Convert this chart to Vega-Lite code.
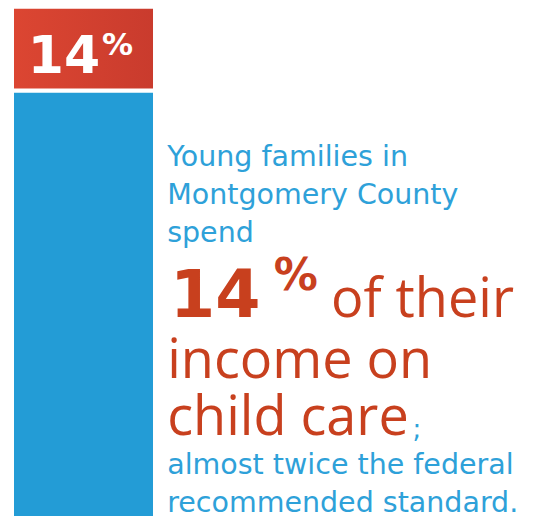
{
  "$schema": "https://vega.github.io/schema/vega-lite/v6.json",
  "width": 538,
  "height": 516,
  "padding": 0,
  "autosize": {"type": "none"},
  "background": "white",
  "config": {"view": {"stroke": null}},
  "layer": [
    {
      "data": {"values": [
        {"segment": "Rest of income", "start": 0, "end": 83.7},
        {"segment": "Child care", "start": 83.7, "end": 100}
      ]},
      "layer": [
        {
          "transform": [{"filter": "datum.segment === 'Rest of income'"}],
          "mark": {"type": "bar", "fill": "#239cd6", "stroke": "white", "strokeWidth": 4, "clip": true},
          "encoding": {
            "x": {"datum": 0, "type": "quantitative", "scale": {"domain": [-0.0839, 3.678], "nice": false, "zero": false}, "axis": null},
            "x2": {"datum": 1},
            "y": {"field": "start", "type": "quantitative", "scale": {"domain": [1, 101.3], "nice": false, "zero": false}, "axis": null},
            "y2": {"field": "end"}
          }
        },
        {
          "transform": [{"filter": "datum.segment === 'Child care'"}],
          "mark": {"type": "bar", "fill": {"gradient": "linear", "x1": 0, "x2": 1, "y1": 0, "y2": 0, "stops": [{"offset": 0, "color": "#dc4632"}, {"offset": 1, "color": "#c93b2d"}]}, "stroke": "white", "strokeWidth": 4, "clip": true},
          "encoding": {
            "x": {"datum": 0, "type": "quantitative"},
            "x2": {"datum": 1},
            "y": {"field": "start", "type": "quantitative"},
            "y2": {"field": "end"}
          }
        }
      ]
    },
    {
      "data": {"values": [{}]},
      "mark": {"type": "text", "text": "14", "font": "DejaVu Sans", "fontWeight": "bold", "fontSize": 52, "fill": "white", "align": "left", "baseline": "alphabetic"},
      "encoding": {"x": {"datum": 0.11, "type": "quantitative"}, "y": {"datum": 87.1, "type": "quantitative"}}
    },
    {
      "data": {"values": [{}]},
      "mark": {"type": "text", "text": "%", "font": "DejaVu Sans", "fontWeight": "bold", "fontSize": 31, "fill": "white", "align": "left", "baseline": "alphabetic"},
      "encoding": {"x": {"datum": 0.63, "type": "quantitative"}, "y": {"datum": 90.6, "type": "quantitative"}}
    },
    {
      "data": {"values": [{}]},
      "mark": {"type": "text", "text": ["Young families in", "Montgomery County", "spend"], "font": "DejaVu Sans", "fontSize": 28.5, "lineHeight": 38.3, "fill": "#2ea1d9", "align": "left", "baseline": "alphabetic"},
      "encoding": {"x": {"datum": 1.085, "type": "quantitative"}, "y": {"datum": 69.1, "type": "quantitative"}}
    },
    {
      "data": {"values": [{}]},
      "mark": {"type": "text", "text": "14", "font": "DejaVu Sans", "fontWeight": "bold", "fontSize": 65, "fill": "#c8401e", "align": "left", "baseline": "alphabetic"},
      "encoding": {"x": {"datum": 1.105, "type": "quantitative"}, "y": {"datum": 39.7, "type": "quantitative"}}
    },
    {
      "data": {"values": [{}]},
      "mark": {"type": "text", "text": "%", "font": "DejaVu Sans", "fontWeight": "bold", "fontSize": 44, "fill": "#c8401e", "align": "left", "baseline": "alphabetic"},
      "encoding": {"x": {"datum": 1.83, "type": "quantitative"}, "y": {"datum": 44.9, "type": "quantitative"}}
    },
    {
      "data": {"values": [{}]},
      "mark": {"type": "text", "text": "of their", "font": "Open Sans", "fontSize": 54, "fill": "#c8401e", "align": "left", "baseline": "alphabetic"},
      "encoding": {"x": {"datum": 2.23, "type": "quantitative"}, "y": {"datum": 39.7, "type": "quantitative"}}
    },
    {
      "data": {"values": [{}]},
      "mark": {"type": "text", "text": ["income on", "child care"], "font": "Open Sans", "fontSize": 54, "lineHeight": 57, "fill": "#c8401e", "align": "left", "baseline": "alphabetic"},
      "encoding": {"x": {"datum": 1.085, "type": "quantitative"}, "y": {"datum": 27.8, "type": "quantitative"}}
    },
    {
      "data": {"values": [{}]},
      "mark": {"type": "text", "text": ";", "font": "DejaVu Sans", "fontSize": 26, "fill": "#2ea1d9", "align": "left", "baseline": "alphabetic"},
      "encoding": {"x": {"datum": 2.8, "type": "quantitative"}, "y": {"datum": 16.2, "type": "quantitative"}}
    },
    {
      "data": {"values": [{}]},
      "mark": {"type": "text", "text": ["almost twice the federal", "recommended standard."], "font": "DejaVu Sans", "fontSize": 28.5, "lineHeight": 38, "fill": "#2ea1d9", "align": "left", "baseline": "alphabetic"},
      "encoding": {"x": {"datum": 1.085, "type": "quantitative"}, "y": {"datum": 9.2, "type": "quantitative"}}
    }
  ]
}
